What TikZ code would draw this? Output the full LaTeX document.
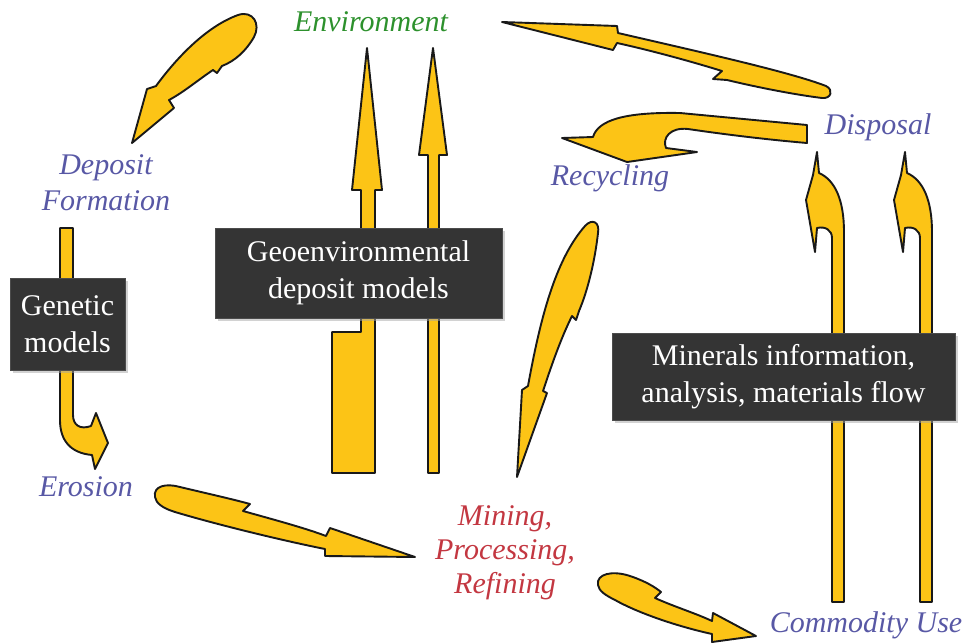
\documentclass[tikz,border=0pt]{standalone}
\usepackage{fontspec}
\setmainfont{Liberation Serif}
\usetikzlibrary{shadows}
\definecolor{arrowfill}{RGB}{252,196,22}
\definecolor{lblblue}{RGB}{88,88,165}
\definecolor{lblred}{RGB}{195,55,65}
\definecolor{lblgreen}{RGB}{45,145,45}
\definecolor{boxgray}{RGB}{52,52,52}

\begin{document}
\begin{tikzpicture}[x=1pt, y=-1pt,
  arr/.style={fill=arrowfill, draw=black!90, line width=1.9pt, line join=round},
  box/.style={fill=boxgray, draw=black!70, text=white, align=center, inner sep=0pt,
    font=\fontsize{30}{37}\selectfont,
    drop shadow={shadow xshift=3pt, shadow yshift=-3pt, fill=gray!70}},
  lbl/.style={align=center, inner sep=0pt, font=\fontsize{30}{36}\selectfont\itshape}]
\useasboundingbox (0,0) rectangle (964,643);

\draw[arr] (132,143) -- (147,89) -- (156,86) .. controls (175,60) and (205,27) .. (238,15) .. controls (253,10) and (261,24) .. (254,37) .. controls (246,51) and (235,61) .. (222,66) -- (217,73) -- (213,70) .. controls (198,80) and (184,92) .. (169,100) -- (174,108) -- cycle;
\draw[arr] (367,48) -- (382,190) -- (375,190) -- (375,473) -- (332,473) -- (332,332) -- (361,332) -- (361,190) -- (352,190) -- cycle;
\draw[arr] (433,48) -- (447,155) -- (439,155) -- (439,473) -- (428,473) -- (428,155) -- (419,155) -- cycle;
\draw[arr] (502,22) -- (617,26) -- (618,33) .. controls (700,52) and (790,72) .. (826,86) .. controls (834,90) and (831,99) .. (822,98) .. controls (790,94) and (752,86) .. (727,80) -- (713,79) -- (722,71) .. controls (680,58) and (640,48) .. (617,43) -- (613,50) -- cycle;
\draw[arr] (807,125) -- (807,143) .. controls (760,139) and (715,133) .. (688,129) .. controls (670,127) and (662,138) .. (666,148) -- (697,152) -- (627,162) -- (562,138) -- (593,137) .. controls (598,120) and (625,112) .. (680,113) -- cycle;
\draw[arr] (517,477) -- (522,390) -- (528,386) .. controls (540,320) and (555,260) .. (585,226) .. controls (592,218) and (600,222) .. (598,233) .. controls (595,260) and (588,290) .. (579,311) -- (576,320) -- (572,316) .. controls (560,340) and (550,370) .. (543,391) -- (547,393) -- cycle;
\draw[arr] (60,228) -- (60,420) .. controls (60,440) and (70,453) .. (92,455) -- (95,469) -- (108,443) -- (96,413) -- (91,426) .. controls (80,430) and (73,425) .. (73,415) -- (73,228) -- cycle;
\draw[arr] (155,497) .. controls (153,486) and (166,483) .. (180,487) .. controls (205,493) and (232,499) .. (250,504) -- (243,511) .. controls (275,520) and (305,528) .. (326,536) -- (330,528) -- (415,557) -- (325,556) -- (325,549) .. controls (280,540) and (215,524) .. (175,512) .. controls (162,508) and (156,503) .. (155,497) -- cycle;
\draw[arr] (598,585) .. controls (596,574) and (612,570) .. (630,576) .. controls (645,581) and (655,587) .. (661,592) -- (655,598) .. controls (675,607) and (695,613) .. (712,621) -- (713,613) -- (756,636) -- (712,642) -- (712,634) .. controls (680,627) and (640,614) .. (615,600) .. controls (605,595) and (599,591) .. (598,585) -- cycle;
\draw[arr] (832,602) -- (832,238) .. controls (832,230) and (825,226) .. (817,228) -- (815,252) -- (806,200) -- (813,175) -- (817,152) -- (819,173) .. controls (835,180) and (844,200) .. (844,232) -- (844,602) -- cycle;
\draw[arr] (920,602) -- (920,238) .. controls (920,230) and (913,226) .. (905,228) -- (903,252) -- (894,200) -- (901,175) -- (905,152) -- (907,173) .. controls (923,180) and (932,200) .. (932,232) -- (932,602) -- cycle;

\node[box, minimum width=115pt, minimum height=92pt] (genetic) at (67.5,324) {Genetic\\models};
\node[box, minimum width=287pt, minimum height=90pt] (geoenv) at (358.5,273) {Geoenvironmental\\deposit models};
\node[box, minimum width=343pt, minimum height=87pt] (minerals) at (783.5,376.5) {Minerals information,\\analysis, materials flow};

\node[lbl, text=lblgreen] (environment) at (371,22) {Environment};
\node[lbl, text=lblblue] (deposit) at (106,183) {Deposit\\Formation};
\node[lbl, text=lblblue] (recycling) at (610,178) {Recycling};
\node[lbl, text=lblblue] (disposal) at (878,127) {Disposal};
\node[lbl, text=lblblue] (erosion) at (86,487) {Erosion};
\node[lbl, text=lblred, font=\fontsize{30}{34}\selectfont\itshape] (mining) at (505,553) {Mining,\\Processing,\\Refining};
\node[lbl, text=lblblue] (commodity) at (866,625) {Commodity Use};
\end{tikzpicture}
\end{document}
